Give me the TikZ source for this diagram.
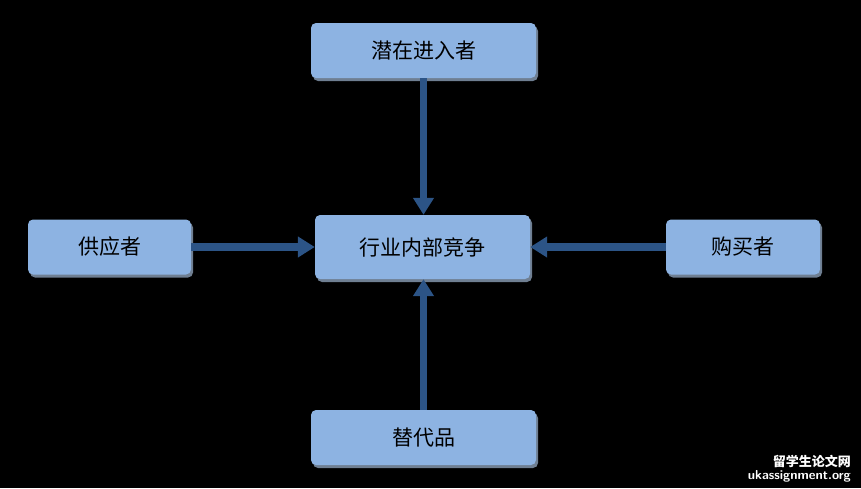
\documentclass[tikz,border=0pt]{standalone}
\usepackage{fontspec}
\newfontfamily\cjk{Noto Sans CJK SC}
\usetikzlibrary{arrows.meta,shadows}
\definecolor{boxfill}{HTML}{8DB3E2}
\definecolor{arrowc}{HTML}{2C5486}
\definecolor{shadowc}{HTML}{6F7F92}
\tikzset{
  box/.style={draw=none, fill=boxfill, rounded corners=5pt, minimum height=55pt,
    font=\cjk\fontsize{21}{24}\selectfont, text=black, inner sep=0pt,
    drop shadow={shadow xshift=2pt, shadow yshift=-3pt, fill=shadowc, opacity=1}},
  conn/.style={draw=arrowc, line width=7.5pt, -{Triangle[width=20pt,length=17pt]}},
  wm/.style={text=white, anchor=east, inner sep=0pt}
}
\begin{document}
\begin{tikzpicture}[x=1pt,y=1pt]
\fill[black] (0,0) rectangle (861,-488);
\useasboundingbox (0,0) rectangle (861,-488);
\node[box, minimum width=225pt] (top) at (423.5,-50.5) {潜在进入者};
\node[box, minimum width=215pt, minimum height=64pt] (mid) at (422.5,-247) {行业内部竞争};
\node[box, minimum width=163pt] (left) at (109.5,-247) {供应者};
\node[box, minimum width=154pt] (right) at (743,-247) {购买者};
\node[box, minimum width=225pt] (bot) at (423.5,-437.5) {替代品};
\draw[conn] (top.south) -- (top.south |- mid.north);
\draw[conn] (bot.north) -- (bot.north |- mid.south);
\draw[conn] (left.east) -- (mid.west);
\draw[conn] (right.west) -- (mid.east);
\node[wm, font=\cjk\bfseries\fontsize{13}{14}\selectfont] (wm1) at (851,-461) {留学生论文网};
\node[wm, font=\sffamily\bfseries\fontsize{13}{14}\selectfont] (wm2) at (851,-476) {ukassignment.org};
\end{tikzpicture}
\end{document}
